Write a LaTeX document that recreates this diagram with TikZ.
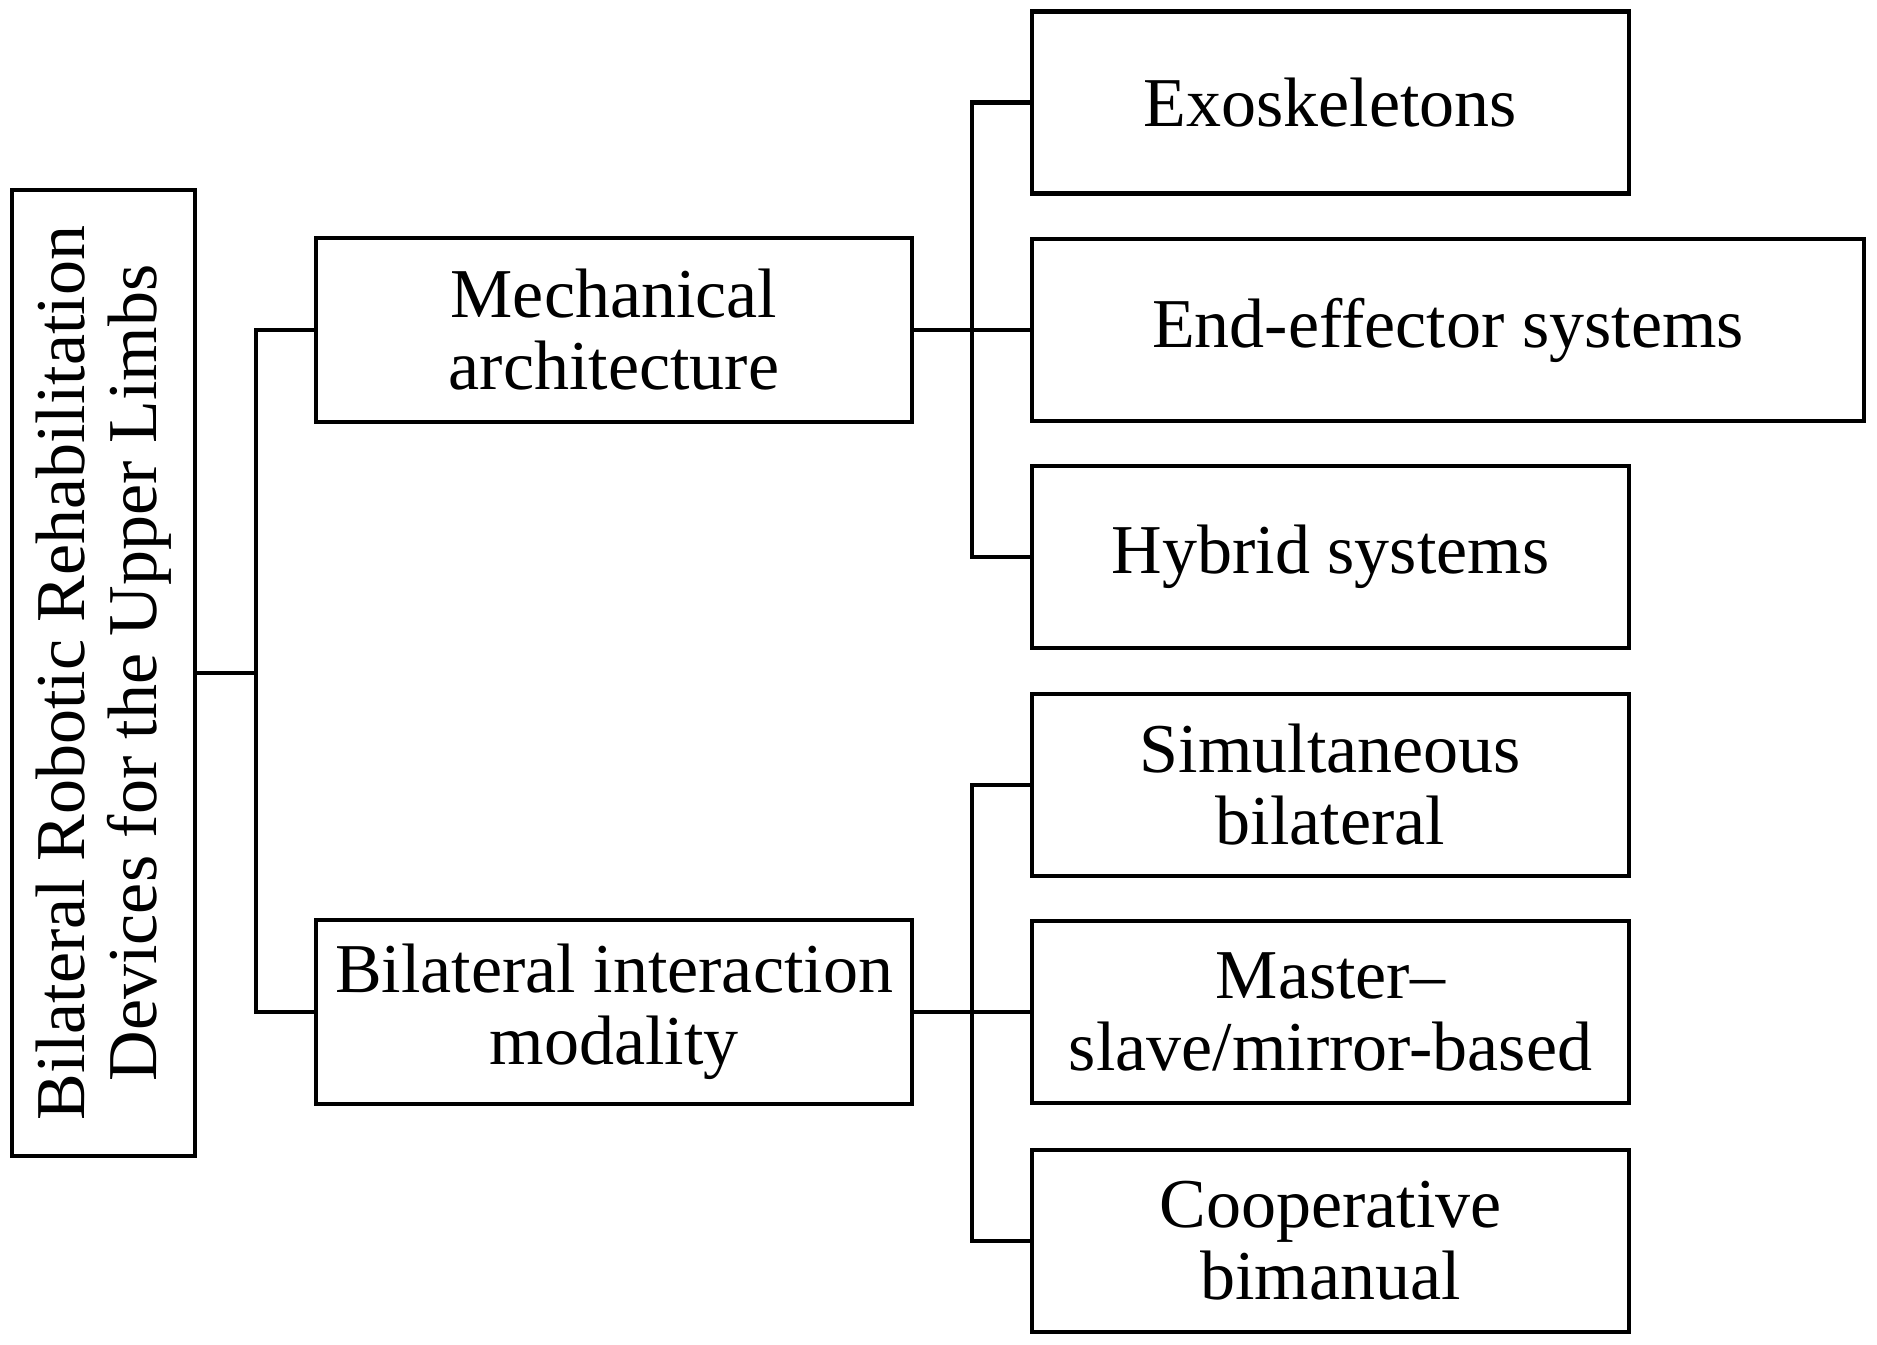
\documentclass[tikz,border=0pt]{standalone}
\usepackage{fontspec}
\setmainfont{Liberation Serif}
\begin{document}
\begin{tikzpicture}[x=0.5pt,y=-0.5pt,
  box/.style={draw, line width=2.1pt, inner sep=0pt, align=center,
    font=\fontsize{35}{36}\selectfont},
  midbox/.style={box, minimum width=298pt, minimum height=92pt},
  leafbox/.style={box, minimum width=298.5pt, minimum height=91pt},
  link/.style={line width=2.1pt}]
\useasboundingbox (0,0) rectangle (1877,1344);
% root (rotated: its south anchor faces right)
\node[box, rotate=90, minimum width=483pt, minimum height=91.5pt] (root) at (103.5,673)
  {Bilateral Robotic Rehabilitation\\Devices for the Upper Limbs};
% level 1
\node[midbox] (mech) at (614,330) {Mechanical\\architecture};
\node[midbox] (bil) at (614,1012) {Bilateral interaction\\modality};
% level 2
\node[leafbox] (exo) at (1330.5,102.5) {Exoskeletons};
\node[leafbox, minimum width=416pt] (ee) at (1448,330) {End-effector systems};
\node[leafbox] (hyb) at (1330.5,557) {Hybrid systems};
\node[leafbox] (sim) at (1330.5,785) {Simultaneous\\bilateral};
\node[leafbox] (mas) at (1330.5,1012) {Master–\\slave/mirror-based};
\node[leafbox] (coop) at (1330.5,1241) {Cooperative\\bimanual};
% trunks
\coordinate (t1) at (256,0);
\coordinate (t2) at (972,0);
\draw[link] (root.south) -- (root.south -| t1);
\draw[link] (mech.west) -- (mech.west -| t1) |- (bil.west);
\draw[link] (mech.east) -- (ee.west);
\draw[link] (exo.west) -- (exo.west -| t2) |- (hyb.west);
\draw[link] (bil.east) -- (mas.west);
\draw[link] (sim.west) -- (sim.west -| t2) |- (coop.west);
\end{tikzpicture}
\end{document}
